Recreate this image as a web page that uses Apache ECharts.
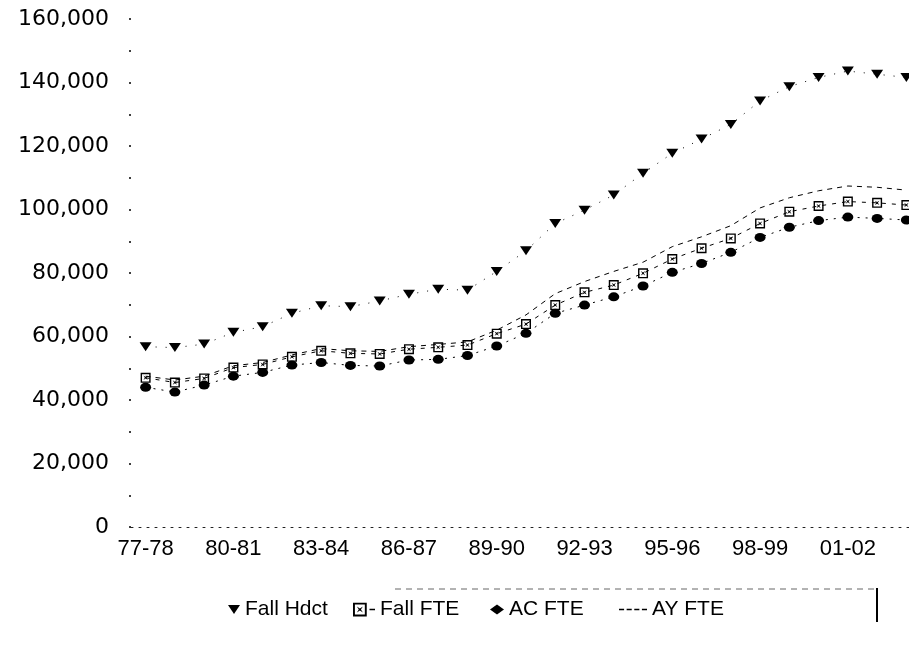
<!DOCTYPE html>
<html>
<head>
<meta charset="utf-8">
<script src="https://cdn.jsdelivr.net/npm/echarts@6/dist/echarts.min.js"></script>
<style>
html,body{margin:0;padding:0;background:#fff;}
#chart{width:909px;height:665px;}
</style>
</head>
<body>
<div id="chart"></div>
<script>
var categories = ['77-78','78-79','79-80','80-81','81-82','82-83','83-84','84-85','85-86','86-87','87-88','88-89','89-90','90-91','91-92','92-93','93-94','94-95','95-96','96-97','97-98','98-99','99-00','00-01','01-02','02-03','03-04'];
var fallHdct = [56800,56500,57600,61300,63100,67300,69700,69400,71200,73300,74900,74600,80500,87000,95600,99800,104600,111400,117700,122200,126800,134200,138700,141600,143600,142600,141600];
var fallFTE = [47000,45500,46800,50200,51200,53600,55500,54700,54500,56000,56600,57300,60900,63900,69900,73900,76200,79900,84400,87800,90900,95600,99300,101100,102500,102100,101400];
var acFTE = [44000,42500,44700,47500,48700,51000,51800,50900,50700,52600,52800,54000,57000,61000,67300,69900,72500,75900,80200,83000,86500,91200,94400,96500,97600,97200,96700];
var ayFTE = [47500,46300,47500,50800,51800,54200,56200,55500,55300,56800,57500,58300,62000,66800,73500,77300,80500,83400,88300,91400,94900,100500,103700,105900,107400,107000,106100];
var yTicks = [0,20000,40000,60000,80000,100000,120000,140000,160000];
var seriesNames = ['Fall Hdct','Fall FTE','AC FTE','AY FTE'];

var FONT = '"Liberation Sans", Arial, sans-serif';
var WIDE = '"DejaVu Sans", sans-serif';
var sqSymbol = 'path://M0,0H10V10H0Z M1.4,1.4V8.6H8.6V1.4Z M2.8,2.8L5,4.2L7.2,2.8L5.8,5L7.2,7.2L5,5.8L2.8,7.2L4.2,5Z';
var triSymbol = 'path://M0,0L12,0L6,9Z';
var legendText = {color: '#000', fontSize: 21, fontFamily: FONT};

function oneLegend(name, icon, left, w, h) {
  return {left: left, top: 594, itemWidth: w, itemHeight: h, textStyle: legendText,
          data: [{name: name, icon: icon}]};
}

var chart = echarts.init(document.getElementById('chart'), null, {renderer:'canvas'});
chart.setOption({
  animation: false,
  backgroundColor: '#fff',
  grid: {left: 131, width: 790, top: 19, bottom: 138, containLabel: false, outerBoundsMode: 'none'},
  xAxis: {
    type: 'category',
    data: categories,
    boundaryGap: true,
    axisLine: {show: true, lineStyle: {color: '#222', width: 1, type: [2, 6]}},
    axisTick: {show: false},
    axisLabel: {interval: 2, color: '#000', fontSize: 22, fontFamily: FONT, margin: 11}
  },
  yAxis: {
    type: 'value',
    min: yTicks[0],
    max: yTicks[yTicks.length - 1],
    interval: 20000,
    splitLine: {show: false},
    axisLine: {show: false},
    axisTick: {show: true, length: 2, lineStyle: {color: '#000', width: 1.5}},
    minorTick: {show: true, splitNumber: 2, length: 2, lineStyle: {color: '#000', width: 1.5}},
    axisLabel: {
      color: '#000', fontSize: 22, fontFamily: WIDE, margin: 22,
      formatter: function (v) { return v === 0 ? '0' : v.toLocaleString('en-US'); }
    }
  },
  legend: [
    oneLegend(seriesNames[0], triSymbol, 223, 12, 9),
    oneLegend(seriesNames[1], 'path://M0,0H10V10H0Z M1.4,1.4V8.6H8.6V1.4Z M2.8,2.8L5,4.2L7.2,2.8L5.8,5L7.2,7.2L5,5.8L2.8,7.2L4.2,5Z M12,4.5H16V5.5H12Z', 348, 22, 14),
    oneLegend(seriesNames[2], 'path://M0,5L7,0L14,5L7,10Z', 485, 14, 10),
    oneLegend(seriesNames[3], 'path://M0,4.5H4V5.5H0Z M6,4.5H10V5.5H6Z M12,4.5H16V5.5H12Z M18,4.5H22V5.5H18Z', 614, 28, 10)
  ],
  graphic: [
    {type: 'line', shape: {x1: 395, y1: 589, x2: 877, y2: 589}, style: {stroke: '#666', lineWidth: 1, lineDash: [6, 5]}},
    {type: 'line', shape: {x1: 877, y1: 588, x2: 877, y2: 622}, style: {stroke: '#000', lineWidth: 2}}
  ],
  series: [
    {
      name: seriesNames[3], type: 'line', data: ayFTE, showSymbol: false, symbol: 'none',
      itemStyle: {color: '#000'},
      lineStyle: {color: '#000', width: 1, type: [5, 5]}, z: 1
    },
    {
      name: seriesNames[0], type: 'line', data: fallHdct, symbol: triSymbol, symbolSize: [12, 9],
      itemStyle: {color: '#000'},
      lineStyle: {color: '#000', width: 1, type: [1, 9]}, z: 3
    },
    {
      name: seriesNames[1], type: 'line', data: fallFTE, symbol: sqSymbol, symbolSize: [10, 10],
      itemStyle: {color: '#000'},
      lineStyle: {color: '#000', width: 1, type: [4, 6]}, z: 3
    },
    {
      name: seriesNames[2], type: 'line', data: acFTE, symbol: 'circle', symbolSize: [11, 9],
      itemStyle: {color: '#000'},
      lineStyle: {color: '#000', width: 1, type: [2, 6]}, z: 3
    }
  ]
});
</script>
</body>
</html>
